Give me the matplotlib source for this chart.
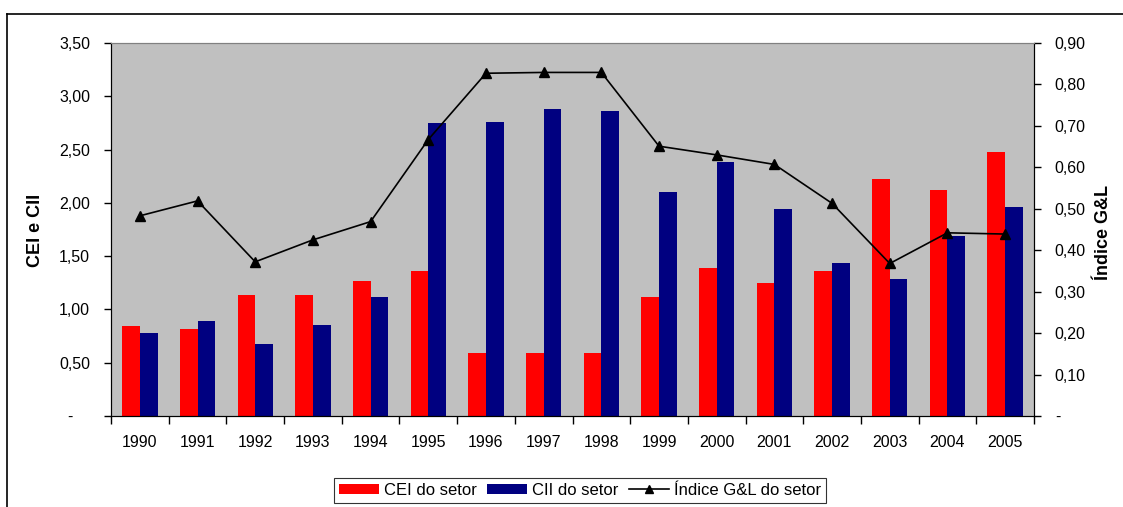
import matplotlib.pyplot as plt
import matplotlib.transforms as mtransforms
from matplotlib.lines import Line2D
import numpy as np

plt.rcParams['font.family'] = ['Liberation Sans', 'DejaVu Sans']

RED = '#FF0000'
NAVY = '#000080'
PLOT_BG = '#C0C0C0'

years = ['1990', '1991', '1992', '1993', '1994', '1995', '1996', '1997',
         '1998', '1999', '2000', '2001', '2002', '2003', '2004', '2005']
cei = [0.84, 0.82, 1.14, 1.14, 1.27, 1.36, 0.59, 0.59,
       0.59, 1.12, 1.39, 1.25, 1.36, 2.22, 2.12, 2.48]
cii = [0.78, 0.89, 0.68, 0.85, 1.12, 2.75, 2.76, 2.88,
       2.86, 2.10, 2.38, 1.94, 1.44, 1.29, 1.69, 1.96]
gl_index = [0.483, 0.519, 0.372, 0.425, 0.469, 0.667, 0.827, 0.829,
            0.829, 0.651, 0.630, 0.607, 0.513, 0.368, 0.442, 0.439]

left_ticks = [0, 0.5, 1.0, 1.5, 2.0, 2.5, 3.0, 3.5]
right_ticks = [0, 0.1, 0.2, 0.3, 0.4, 0.5, 0.6, 0.7, 0.8, 0.9]


def br_fmt(v):
    if v == 0:
        return '-'
    return f'{v:.2f}'.replace('.', ',')


W, H = 1123, 507
fig = plt.figure(figsize=(W / 100, H / 100), dpi=100)
ax = fig.add_axes([111 / W, (H - 416) / H, 923 / W, 373 / H])
ax.set_facecolor(PLOT_BG)

x = np.arange(len(years))
bw = 0.307
ax.bar(x - bw / 2, cei, bw, color=RED, label='CEI do setor', zorder=2)
ax.bar(x + bw / 2, cii, bw, color=NAVY, label='CII do setor', zorder=2)

ax.set_xlim(-0.5, len(years) - 0.5)
ax.set_ylim(0, 3.5)
ax.set_yticks(left_ticks)
ax.set_yticklabels([br_fmt(v) for v in left_ticks])

# x ticks sit between categories, labels at the centres
ax.set_xticks(np.arange(len(years) + 1) - 0.5)
ax.set_xticklabels([])
ax.set_xticks(x, minor=True)
ax.set_xticklabels(years, minor=True)
ax.tick_params(axis='x', which='major', length=6, direction='out', width=1)
ax.tick_params(axis='x', which='minor', length=0, pad=13.5, labelsize=11.5)
ax.tick_params(axis='y', length=5, width=1, pad=10, labelsize=11.5)

for side in ['left', 'bottom', 'right']:
    ax.spines[side].set_color('black')
ax.spines['top'].set_color('#808080')

ax2 = ax.twinx()
ax2.plot(x, gl_index, color='black', lw=1.2, marker='^', ms=7,
         label='Índice G&L do setor', zorder=3)
ax2.set_ylim(0, 0.9)
ax2.set_yticks(right_ticks)
ax2.set_yticklabels([br_fmt(v) for v in right_ticks])
ax2.tick_params(axis='y', length=5, width=1, pad=9.5, labelsize=11.5)
ax2.spines['top'].set_color('#808080')

# move the "-" zero labels like Excel's accounting format
lbl = ax.get_yticklabels()[0]
lbl.set_transform(lbl.get_transform() + mtransforms.ScaledTranslation(-0.18, 0, fig.dpi_scale_trans))
lbl2 = ax2.get_yticklabels()[0]
lbl2.set_transform(lbl2.get_transform() + mtransforms.ScaledTranslation(0.01, 0, fig.dpi_scale_trans))

fig.text(35 / W, 1 - 230 / H, 'CEI e CII', rotation=90, ha='center', va='center',
         fontsize=13, fontweight='bold')
fig.text(1104 / W, 1 - 232 / H, 'Índice G&L', rotation=90, ha='center', va='center',
         fontsize=13, fontweight='bold')

h1, l1 = ax.get_legend_handles_labels()
h2, l2 = ax2.get_legend_handles_labels()
leg = fig.legend(h1 + h2, l1 + l2, loc='center', bbox_to_anchor=(580 / W, 16.5 / H),
                 ncol=3, fontsize=12, frameon=True, fancybox=False,
                 handlelength=2.4, handleheight=0.6, handletextpad=0.3,
                 columnspacing=0.6, borderpad=0.3, borderaxespad=0, markerscale=0.8)
leg.get_frame().set_edgecolor('black')
leg.get_frame().set_linewidth(0.8)

# outer chart border (cropped in the reference)
fig.add_artist(Line2D([7 / W, 1], [1 - 14 / H, 1 - 14 / H], color='black', lw=1.2))
fig.add_artist(Line2D([7 / W, 7 / W], [0, 1 - 14 / H], color='black', lw=1.2))

fig.savefig('out.png', dpi=100)
